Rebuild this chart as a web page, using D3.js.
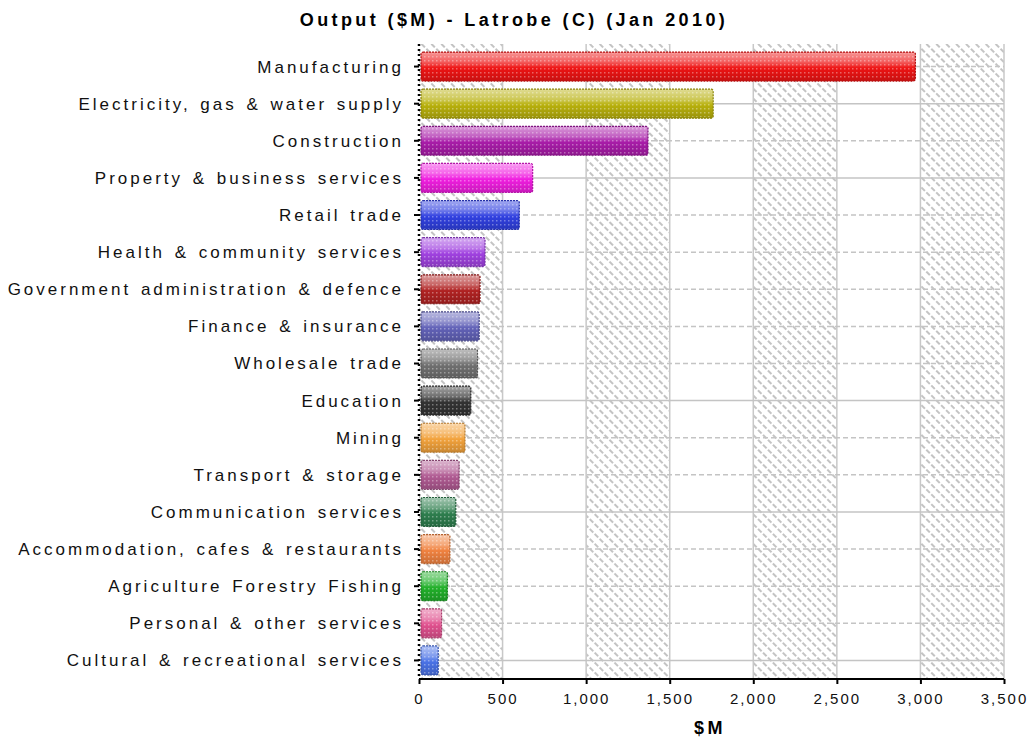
<!DOCTYPE html>
<html>
<head>
<meta charset="utf-8">
<script src="https://cdn.jsdelivr.net/npm/d3@7"></script>
<style>
  html, body { margin: 0; padding: 0; background: #fff; }
  svg { display: block; font-family: "Liberation Sans", Arial, sans-serif; }
  .cat-label { font-size: 17px; letter-spacing: 3px; word-spacing: 2px; fill: #111; }
  .x-label { font-size: 15px; letter-spacing: 2px; fill: #111; }
  .title { font-size: 18px; font-weight: bold; letter-spacing: 3.4px; fill: #000; }
</style>
</head>
<body>
<div id="chart"></div>
<script>
const categories = [
  "Manufacturing",
  "Electricity, gas & water supply",
  "Construction",
  "Property & business services",
  "Retail trade",
  "Health & community services",
  "Government administration & defence",
  "Finance & insurance",
  "Wholesale trade",
  "Education",
  "Mining",
  "Transport & storage",
  "Communication services",
  "Accommodation, cafes & restaurants",
  "Agriculture Forestry Fishing",
  "Personal & other services",
  "Cultural & recreational services"
];
const values = [2970, 1760, 1370, 680, 600, 395, 365, 360, 350, 310, 275, 240, 220, 185, 170, 135, 115];
const barColors = [
  "#ee1414", "#b8b00c", "#a81ca8", "#f01ee0", "#3040e0", "#a042e0",
  "#b02222", "#6262b8", "#707070", "#333333", "#f2a23c", "#b05a92",
  "#2e7e4e", "#f08240", "#22b02a", "#e0508e", "#4a72e6"
];
const xTicks = [0, 500, 1000, 1500, 2000, 2500, 3000, 3500];
const chartTitle = "Output ($M) - Latrobe (C) (Jan 2010)";
const xTitle = "$M";

// rows whose grid line comes out solid in the original, the rest are dashed
const solidRows = new Set([1, 3, 9, 12, 16]);

const W = 1027, H = 740;
const plot = { left: 419, right: 1004, top: 48, bottom: 679 };

const svg = d3.select("#chart").append("svg")
  .attr("width", W).attr("height", H);

const defs = svg.append("defs");

const hatch = defs.append("pattern")
  .attr("id", "hatch")
  .attr("patternUnits", "userSpaceOnUse")
  .attr("width", 7).attr("height", 7)
  .attr("patternTransform", "rotate(-45)");
hatch.append("line")
  .attr("x1", 1).attr("y1", 0).attr("x2", 1).attr("y2", 7)
  .attr("stroke", "#bdbdbd").attr("stroke-width", 1.8)
  .attr("stroke-dasharray", "5,2");

const dots = defs.append("pattern")
  .attr("id", "dots")
  .attr("patternUnits", "userSpaceOnUse")
  .attr("width", 4).attr("height", 4);
dots.append("rect").attr("x", 0).attr("y", 0).attr("width", 1.5).attr("height", 1.5)
  .attr("fill", "#fff").attr("opacity", 0.35);

barColors.forEach((c, i) => {
  const g = defs.append("linearGradient")
    .attr("id", "grad" + i)
    .attr("x1", 0).attr("y1", 0).attr("x2", 0).attr("y2", 1);
  const base = d3.color(c);
  const light = d3.interpolateRgb(c, "#fff");
  g.append("stop").attr("offset", "0%").attr("stop-color", light(0.55));
  g.append("stop").attr("offset", "35%").attr("stop-color", light(0.3));
  g.append("stop").attr("offset", "55%").attr("stop-color", base.formatHex());
  g.append("stop").attr("offset", "100%").attr("stop-color", base.darker(0.5).formatHex());
});

const x = d3.scaleLinear()
  .domain([0, 3500])
  .range([plot.left, plot.right]);

const y = d3.scaleBand()
  .domain(categories)
  .range([plot.top, plot.bottom])
  .paddingInner(0.22)
  .paddingOuter(0.11);

const rowCenter = d => y(d) + y.bandwidth() / 2;

// alternating hatched columns
const bg = svg.append("g");
xTicks.slice(0, -1).forEach((t, i) => {
  if (i % 2 === 0) {
    bg.append("rect")
      .attr("x", x(t)).attr("y", plot.top - 4)
      .attr("width", x(xTicks[i + 1]) - x(t))
      .attr("height", plot.bottom - plot.top + 4)
      .attr("fill", "url(#hatch)");
  }
});

// vertical grid lines
bg.selectAll(".vgrid")
  .data(xTicks.slice(1))
  .join("line")
  .attr("x1", d => x(d)).attr("x2", d => x(d))
  .attr("y1", plot.top - 4).attr("y2", plot.bottom)
  .attr("stroke", "#c8c8c8").attr("stroke-width", 1.5);

// horizontal grid lines
bg.selectAll(".hgrid")
  .data(categories)
  .join("line")
  .attr("x1", plot.left).attr("x2", plot.right)
  .attr("y1", d => rowCenter(d)).attr("y2", d => rowCenter(d))
  .attr("stroke", "#c4c4c4").attr("stroke-width", 1.5)
  .attr("stroke-dasharray", (d, i) => solidRows.has(i) ? null : "5,3");

// bars
const bars = svg.append("g");
bars.selectAll(".bar")
  .data(values)
  .join("rect")
  .attr("x", x(0) + 2)
  .attr("y", (d, i) => y(categories[i]))
  .attr("width", d => x(d) - x(0) - 2)
  .attr("height", y.bandwidth())
  .attr("rx", 2)
  .attr("fill", (d, i) => "url(#grad" + i + ")")
  .attr("stroke", (d, i) => d3.color(barColors[i]).darker(0.8))
  .attr("stroke-width", 1.2)
  .attr("stroke-dasharray", "2,1");

bars.selectAll(".tex")
  .data(values)
  .join("rect")
  .attr("x", x(0) + 3)
  .attr("y", (d, i) => y(categories[i]) + 1)
  .attr("width", d => x(d) - x(0) - 4)
  .attr("height", y.bandwidth() - 2)
  .attr("fill", "url(#dots)");

// left axis
const yAxis = svg.append("g")
  .attr("transform", `translate(${plot.left},0)`)
  .call(d3.axisLeft(y).tickSize(5).tickPadding(10));
yAxis.select(".domain")
  .attr("stroke", "#000").attr("stroke-width", 2.5)
  .attr("stroke-dasharray", "2,3")
  .attr("d", `M0,${plot.top - 4}V${plot.bottom}`);
yAxis.selectAll(".tick line").attr("stroke", "#000").attr("stroke-width", 2);
yAxis.selectAll(".tick text")
  .attr("class", "cat-label")
  .attr("font-family", null).attr("font-size", null)
  .attr("dy", "0.35em");

// bottom axis
const xAxis = svg.append("g")
  .attr("transform", `translate(0,${plot.bottom})`)
  .call(d3.axisBottom(x).tickValues(xTicks).tickFormat(d3.format(",")).tickSize(5).tickPadding(9));
xAxis.select(".domain").attr("stroke", "#000").attr("stroke-width", 2)
  .attr("d", `M${plot.left},0H${plot.right}`);
xAxis.selectAll(".tick line").attr("stroke", "#000").attr("stroke-width", 2);
xAxis.selectAll(".tick text")
  .attr("class", "x-label")
  .attr("font-family", null).attr("font-size", null);

// titles
svg.append("text")
  .attr("class", "title")
  .attr("x", 514).attr("y", 26)
  .attr("text-anchor", "middle")
  .text(chartTitle);

svg.append("text")
  .attr("class", "title")
  .attr("x", 710).attr("y", 734)
  .attr("text-anchor", "middle")
  .text(xTitle);
</script>
</body>
</html>
